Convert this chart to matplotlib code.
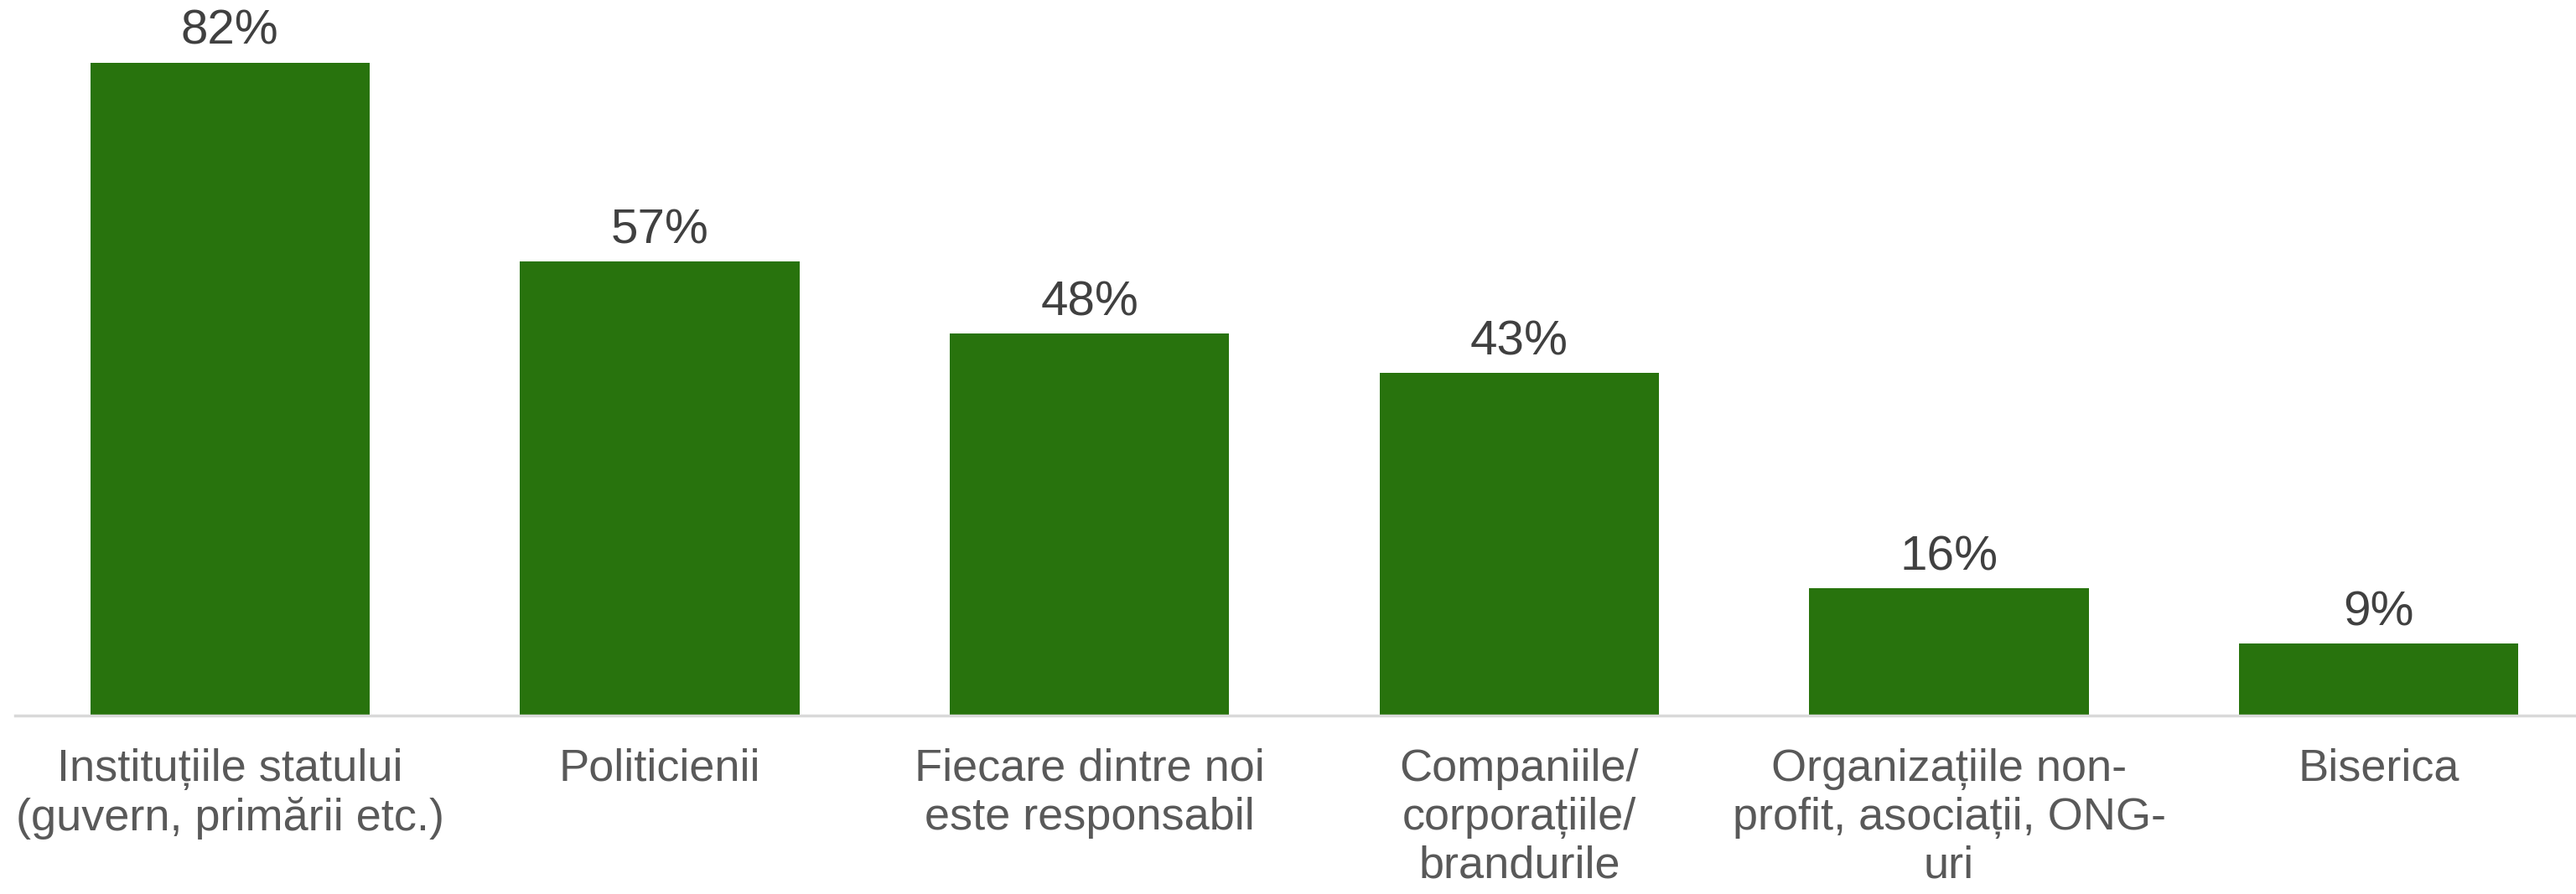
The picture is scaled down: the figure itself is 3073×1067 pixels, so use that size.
import matplotlib
matplotlib.use("Agg")
import matplotlib.pyplot as plt

categories = [
    "Instituțiile statului\n(guvern, primării etc.)",
    "Politicienii",
    "Fiecare dintre noi\neste responsabil",
    "Companiile/\ncorporațiile/\nbrandurile",
    "Organizațiile non-\nprofit, asociații, ONG-\nuri",
    "Biserica",
]
values = [82, 57, 48, 43, 16, 9]

BAR_COLOR = "#28730D"
VALUE_COLOR = "#404040"
LABEL_COLOR = "#595959"
FONT = ["Liberation Sans", "DejaVu Sans"]

W, H = 3073, 1067
fig = plt.figure(figsize=(W / 100, H / 100), dpi=100)
fig.patch.set_facecolor("white")

left, right = 18, 3094
bottom = H - 854
top_px = 8
ax = fig.add_axes([left / W, bottom / H, (right - left) / W, (H - bottom - top_px) / H])

x = list(range(len(categories)))
bars = ax.bar(x, values, width=0.65, color=BAR_COLOR, zorder=2)

for rect, v in zip(bars, values):
    ax.annotate(f"{v}%", (rect.get_x() + rect.get_width() / 2, rect.get_height()),
                xytext=(0, 7), textcoords="offset points", ha="center", va="bottom",
                fontsize=42, color=VALUE_COLOR, family=FONT)

ax.set_xlim(-0.5, len(categories) - 0.5)
ax.set_ylim(0, 89)
ax.set_xticks(x)
ax.set_xticklabels(categories, fontsize=39, color=LABEL_COLOR, family=FONT,
                   linespacing=1.2)
ax.tick_params(axis="x", length=0, pad=28)
ax.set_yticks([])

for s in ["top", "right", "left"]:
    ax.spines[s].set_visible(False)
ax.spines["bottom"].set_color("#D9D9D9")
ax.spines["bottom"].set_linewidth(2.5)

fig.savefig("out.png", dpi=100)
